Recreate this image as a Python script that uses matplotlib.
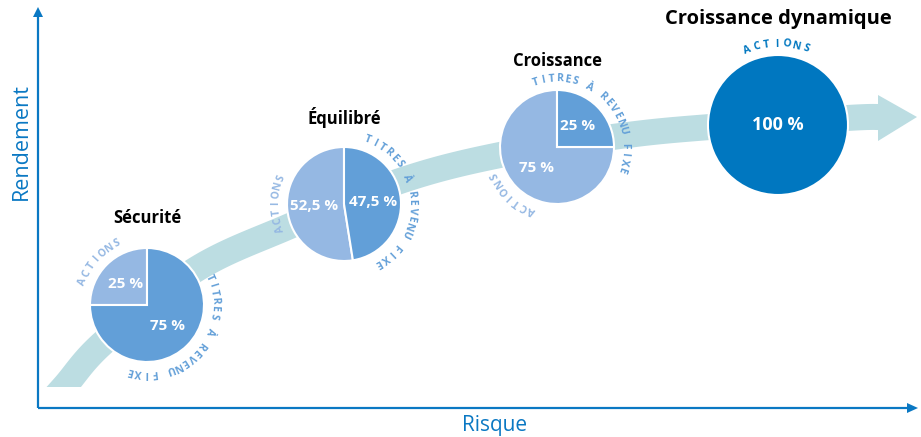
import numpy as np
import matplotlib
matplotlib.use("Agg")
import matplotlib.pyplot as plt
from matplotlib.patches import Polygon, Rectangle

plt.rcParams['font.family'] = ['Open Sans', 'DejaVu Sans']

# ---------------- data ----------------
profils = ["Sécurité", "Équilibré", "Croissance", "Croissance dynamique"]
actions = [25, 52.5, 75, 100]
titres = [75, 47.5, 25, 0]
classes = ["ACTIONS", "TITRES À REVENU FIXE"]
x_label = "Risque"
y_label = "Rendement"

# ---------------- layout (pixel coords, y down) ----------------
W, H = 921, 437
centers = [(147, 305), (344, 204), (557, 147), (778, 125)]
radii = [57, 57, 57, 70]
# arc text angles (start, end) for ACTIONS and TITRES labels
arc_actions = [(160, 116), (201, 158), (248, 205), (112, 70)]
arc_titres = [(24, -104), (70, -60), (108, -19), None]
title_y = [218, 117, 61, 19]
title_size = [12, 12, 12, 14.5]

C_LIGHT = "#95b8e3"
C_MED = "#629fd8"
C_DARK = "#0077c0"
C_BAND = "#bcdde2"
C_AXIS = "#0a78c3"

def Y(y):
    return H - y

fig = plt.figure(figsize=(W / 100, H / 100), dpi=100)
ax = fig.add_axes([0, 0, 1, 1])
ax.set_xlim(0, W)
ax.set_ylim(0, H)
ax.axis('off')

# ---------------- band arrow ----------------
guide = np.array([(30, 425), (64, 387), (104, 342), (195, 270), (290, 226),
                  (400, 181), (500, 155), (620, 136), (710, 127), (847, 118),
                  (880, 117)], dtype=float)
guide[:, 1] = H - guide[:, 1]
P = np.vstack([guide[0], guide, guide[-1]])
curve = []
for i in range(1, len(P) - 2):
    p0, p1, p2, p3 = P[i - 1], P[i], P[i + 1], P[i + 2]
    for t in np.linspace(0, 1, 30, endpoint=False):
        curve.append(0.5 * ((2 * p1) + (-p0 + p2) * t +
                            (2 * p0 - 5 * p1 + 4 * p2 - p3) * t ** 2 +
                            (-p0 + 3 * p1 - 3 * p2 + p3) * t ** 3))
curve.append(P[-2])
curve = np.array(curve)
tang = np.gradient(curve, axis=0)
tang /= np.linalg.norm(tang, axis=1)[:, None]
norm = np.column_stack([-tang[:, 1], tang[:, 0]])
bw = 26
left = curve + norm * bw / 2
right = curve - norm * bw / 2
band = Polygon(np.vstack([left, right[::-1]]), closed=True, fc=C_BAND, ec='none', zorder=1)
ax.add_patch(band)
clip = Rectangle((0, Y(387)), W, H, transform=ax.transData)
band.set_clip_path(clip)
head = Polygon([(878, Y(95)), (917, Y(117)), (878, Y(141))], closed=True,
               fc=C_BAND, ec='none', zorder=1)
ax.add_patch(head)

# ---------------- axes arrows ----------------
ax.plot([38, 38], [Y(408), Y(14)], color=C_AXIS, lw=1.6, zorder=2, solid_capstyle='butt')
ax.plot([38, 909], [Y(408), Y(408)], color=C_AXIS, lw=1.6, zorder=2, solid_capstyle='butt')
ax.add_patch(Polygon([(33, Y(17)), (38, Y(7)), (43, Y(17))], closed=True, fc=C_AXIS, ec='none'))
ax.add_patch(Polygon([(907, Y(403)), (918, Y(408)), (907, Y(413))], closed=True, fc=C_AXIS, ec='none'))
ax.text(21, Y(142), y_label, rotation=90, ha='center', va='center',
        color=C_AXIS, fontsize=15.5)
ax.text(495, Y(425), x_label, ha='center', va='center', color=C_AXIS, fontsize=15)

# ---------------- pies ----------------
def arc_text(cx, cy, R, a0, a1, text, color, size):
    n = len(text)
    for i, ch in enumerate(text):
        a = a0 + (a1 - a0) * i / (n - 1)
        r = np.deg2rad(a)
        ax.text(cx + R * np.cos(r), cy + R * np.sin(r), ch, rotation=a - 90,
                rotation_mode='anchor', ha='center', va='center',
                color=color, fontsize=size, fontweight='bold', zorder=5)

def fmt(v):
    return f"{v:g}".replace('.', ',') + " %"

for k, name in enumerate(profils):
    cx, cy = centers[k][0], Y(centers[k][1])
    r = radii[k]
    vals = [actions[k], titres[k]]
    cols = [C_LIGHT, C_MED] if titres[k] > 0 else [C_DARK, C_MED]
    keep = [j for j, v in enumerate(vals) if v > 0]
    wedges, _ = ax.pie([vals[j] for j in keep], colors=[cols[j] for j in keep],
                       center=(cx, cy), radius=r, startangle=90, counterclock=True,
                       wedgeprops=dict(edgecolor='white', linewidth=1.5), frame=True)
    for w, j in zip(wedges, keep):
        w.set_zorder(3)
        if len(keep) == 1:
            lx, ly, fs = cx, cy, 13
        else:
            mid = np.deg2rad((w.theta1 + w.theta2) / 2)
            lx, ly, fs = cx + 0.52 * r * np.cos(mid), cy + 0.52 * r * np.sin(mid), 11
        ax.text(lx, ly, fmt(vals[j]), ha='center', va='center', color='white',
                fontsize=fs, fontweight='bold', zorder=6)
    R = r + 11
    a0, a1 = arc_actions[k]
    arc_text(cx, cy, R, a0, a1, classes[0], cols[0], 7.5)
    if arc_titres[k] is not None:
        a0, a1 = arc_titres[k]
        arc_text(cx, cy, R, a0, a1, classes[1], C_MED, 7.5)
    ax.text(centers[k][0], Y(title_y[k]), name, ha='center', va='center',
            fontsize=title_size[k], fontweight='bold', color='black', zorder=6)

ax.set_xlim(0, W)
ax.set_ylim(0, H)
ax.set_aspect('auto')
fig.savefig("out.png", dpi=100)
